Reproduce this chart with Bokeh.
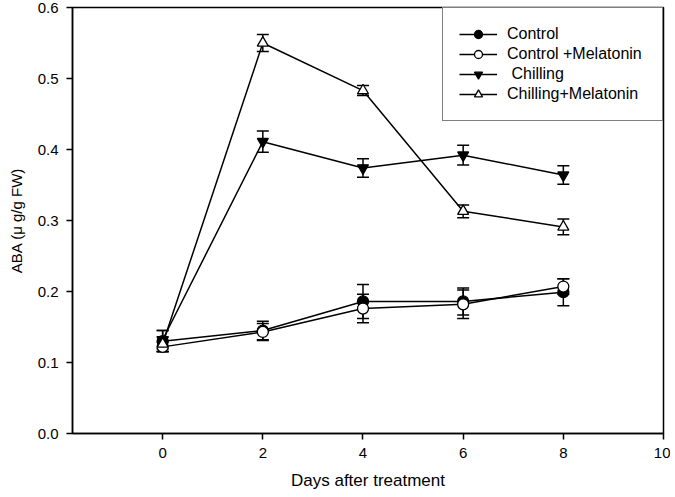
from bokeh.plotting import figure
from bokeh.models import (ColumnDataSource, Whisker, TeeHead, Legend, LegendItem,
                          FixedTicker, NumeralTickFormatter, Range1d)
from bokeh.embed import file_html
from bokeh.resources import INLINE

days = [0, 2, 4, 6, 8]
control = [0.130, 0.145, 0.186, 0.186, 0.199]
control_err = [0.015, 0.013, 0.024, 0.019, 0.019]
control_mel = [0.122, 0.143, 0.176, 0.182, 0.207]
control_mel_err = [0.007, 0.012, 0.020, 0.020, 0.011]
chilling = [0.132, 0.411, 0.374, 0.392, 0.364]
chilling_err = [0.013, 0.015, 0.013, 0.014, 0.013]
chill_mel = [0.126, 0.550, 0.483, 0.313, 0.291]
chill_mel_err = [0.010, 0.012, 0.007, 0.009, 0.011]

series = [
    ("Control", control, control_err, "circle", "black"),
    ("Control +Melatonin", control_mel, control_mel_err, "circle", "white"),
    (" Chilling", chilling, chilling_err, "inverted_triangle", "black"),
    ("Chilling+Melatonin", chill_mel, chill_mel_err, "triangle", "white"),
]

FONT = "Liberation Sans"
W, H = 670, 492
p = figure(width=W, height=H, output_backend="svg", toolbar_location=None,
           x_range=Range1d(-1.8, 10), y_range=Range1d(0, 0.6),
           min_border_left=72, min_border_right=W - 663,
           min_border_top=7, min_border_bottom=H - 434)
p.xgrid.visible = False
p.ygrid.visible = False
p.outline_line_color = "black"
p.outline_line_width = 1.5

for ax in (p.xaxis[0], p.yaxis[0]):
    ax.axis_line_width = 1.5
    ax.major_tick_line_width = 1.5
    ax.major_tick_out = 6
    ax.major_tick_in = 0
    ax.minor_tick_line_color = None
    ax.major_label_text_font = FONT
    ax.major_label_text_font_size = "15px"
    ax.major_label_text_color = "black"
    ax.axis_label_text_font = FONT
    ax.axis_label_text_font_style = "normal"
    ax.axis_label_text_color = "black"

p.xaxis.ticker = FixedTicker(ticks=[0, 2, 4, 6, 8, 10])
p.yaxis.ticker = FixedTicker(ticks=[0, 0.1, 0.2, 0.3, 0.4, 0.5, 0.6])
p.yaxis.formatter = NumeralTickFormatter(format="0.0")
p.xaxis.axis_label = "Days after treatment"
p.yaxis.axis_label = "ABA (\u03bc g/g FW)"
p.xaxis.axis_label_text_font_size = "17px"
p.yaxis.axis_label_text_font_size = "15px"
p.xaxis.major_label_standoff = 8
p.yaxis.major_label_standoff = 8
p.xaxis.axis_label_standoff = 10
p.yaxis.axis_label_standoff = 10

items = []
line_rs = []
for name, vals, errs, marker, fill in series:
    src = ColumnDataSource(dict(x=days, y=vals,
                                lo=[v - e for v, e in zip(vals, errs)],
                                hi=[v + e for v, e in zip(vals, errs)]))
    lr = p.line("x", "y", source=src, line_color="black", line_width=1.5)
    w = Whisker(base="x", upper="hi", lower="lo", source=src,
                line_color="black", line_width=1.5,
                upper_head=TeeHead(size=12, line_color="black", line_width=1.5),
                lower_head=TeeHead(size=12, line_color="black", line_width=1.5))
    p.add_layout(w)
    line_rs.append((name, lr, src, marker, fill))

for name, lr, src, marker, fill in line_rs:
    mr = p.scatter("x", "y", source=src, marker=marker, size=11,
                   fill_color=fill, line_color="black", line_width=1.3)
    items.append(LegendItem(label=name, renderers=[lr, mr]))

legend = Legend(items=items, location="top_right", margin=0, padding=16,
                spacing=0, glyph_width=38, glyph_height=20, label_standoff=10,
                label_width=139,
                label_text_font=FONT, label_text_font_size="16px",
                label_text_color="black", border_line_color="black",
                border_line_width=1.5, background_fill_alpha=1)
p.add_layout(legend)

open("out.html", "w").write(file_html(p, INLINE))
